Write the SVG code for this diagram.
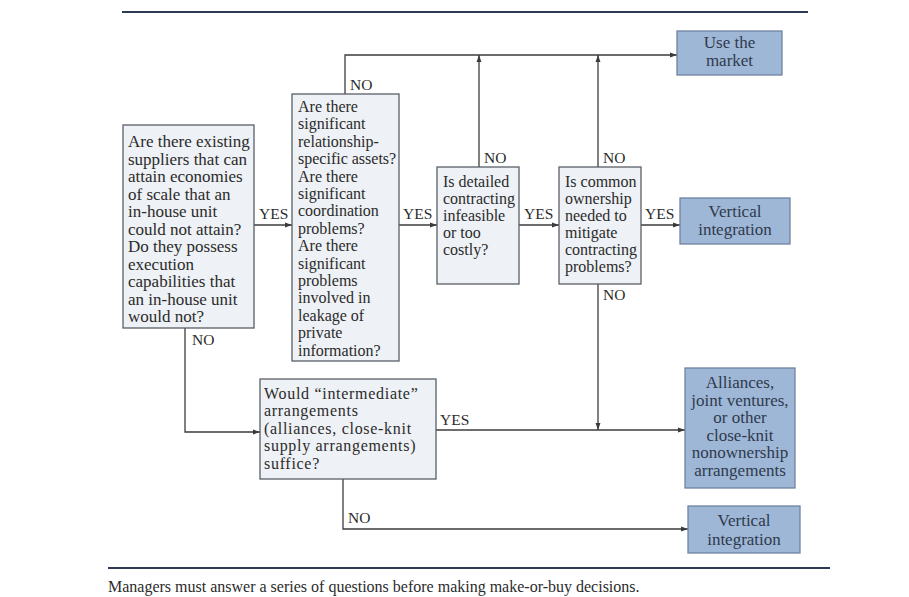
<svg xmlns="http://www.w3.org/2000/svg" width="909" height="597" viewBox="0 0 909 597">
<defs>
<marker id="ah" viewBox="0 0 10 10" refX="10" refY="5" markerWidth="7" markerHeight="7" orient="auto" markerUnits="userSpaceOnUse">
<path d="M0,1.5 L10,5 L0,8.5 z" fill="#3a3a3a"/>
</marker>
<style>
.q{fill:#eef1f5;stroke:#5a5f66;stroke-width:1.3}
.r{fill:#9fb7d7;stroke:#6f83a0;stroke-width:1.3}
.t{font-family:"Liberation Serif","Times New Roman",serif;font-size:16px;fill:#2b2b2b}
.t1{font-size:17px}
.t5{font-size:16px;letter-spacing:0.7px}
.rt{font-family:"Liberation Serif","Times New Roman",serif;font-size:17px;fill:#2e3a4c;text-anchor:middle}
.lb{font-family:"Liberation Serif","Times New Roman",serif;font-size:15.5px;fill:#2b2b2b}
.c{fill:none;stroke:#3d3d3d;stroke-width:1.3}
.rule{stroke:#2c3a55;stroke-width:2;fill:none}
</style>
</defs>
<rect width="909" height="597" fill="#ffffff"/>
<line class="rule" x1="122" y1="12" x2="808" y2="12"/>
<line class="rule" x1="108" y1="568" x2="830" y2="568"/>
<text x="108" y="592" font-family="Liberation Serif, serif" font-size="16" fill="#2b2b2b">Managers must answer a series of questions before making make-or-buy decisions.</text>

<g id="connectors">
<path class="c" d="M254,225 H292" marker-end="url(#ah)"/>
<path class="c" d="M345,94 V55 H677" marker-end="url(#ah)"/>
<path class="c" d="M479,167 V55" marker-end="url(#ah)"/>
<path class="c" d="M598,167 V55" marker-end="url(#ah)"/>
<path class="c" d="M399,225 H437" marker-end="url(#ah)"/>
<path class="c" d="M519,225 H559" marker-end="url(#ah)"/>
<path class="c" d="M641,225 H680" marker-end="url(#ah)"/>
<path class="c" d="M598,284 V430" marker-end="url(#ah)"/>
<path class="c" d="M185,328 V432 H260" marker-end="url(#ah)"/>
<path class="c" d="M436,430 H685" marker-end="url(#ah)"/>
<path class="c" d="M343,479 V529 H688" marker-end="url(#ah)"/>
<text class="lb" x="259" y="219">YES</text>
<text class="lb" x="350" y="90">NO</text>
<text class="lb" x="484" y="163">NO</text>
<text class="lb" x="603" y="163">NO</text>
<text class="lb" x="403" y="219">YES</text>
<text class="lb" x="524" y="219">YES</text>
<text class="lb" x="645" y="219">YES</text>
<text class="lb" x="603" y="300">NO</text>
<text class="lb" x="192" y="345">NO</text>
<text class="lb" x="440" y="425">YES</text>
<text class="lb" x="348" y="523">NO</text>
</g>

<g id="q1">
<rect class="q" x="123" y="125" width="131" height="203"/>
<text class="t t1" x="128" y="147">Are there existing</text>
<text class="t t1" x="128" y="164.5">suppliers that can</text>
<text class="t t1" x="128" y="182">attain economies</text>
<text class="t t1" x="128" y="199.5">of scale that an</text>
<text class="t t1" x="128" y="217">in-house unit</text>
<text class="t t1" x="128" y="234.5">could not attain?</text>
<text class="t t1" x="128" y="252">Do they possess</text>
<text class="t t1" x="128" y="269.5">execution</text>
<text class="t t1" x="128" y="287">capabilities that</text>
<text class="t t1" x="128" y="304.5">an in-house unit</text>
<text class="t t1" x="128" y="322">would not?</text>
</g>

<g id="q2">
<rect class="q" x="292" y="94" width="107" height="267" fill="#eaf0f6"/>
<text class="t" x="298" y="112">Are there</text>
<text class="t" x="298" y="129.4">significant</text>
<text class="t" x="298" y="146.8">relationship-</text>
<text class="t" x="298" y="164.2">specific assets?</text>
<text class="t" x="298" y="181.6">Are there</text>
<text class="t" x="298" y="199">significant</text>
<text class="t" x="298" y="216.4">coordination</text>
<text class="t" x="298" y="233.8">problems?</text>
<text class="t" x="298" y="251.2">Are there</text>
<text class="t" x="298" y="268.6">significant</text>
<text class="t" x="298" y="286">problems</text>
<text class="t" x="298" y="303.4">involved in</text>
<text class="t" x="298" y="320.8">leakage of</text>
<text class="t" x="298" y="338.2">private</text>
<text class="t" x="298" y="355.6">information?</text>
</g>

<g id="q3">
<rect class="q" x="437" y="167" width="82" height="117"/>
<text class="t" x="443" y="187">Is detailed</text>
<text class="t" x="443" y="204">contracting</text>
<text class="t" x="443" y="221">infeasible</text>
<text class="t" x="443" y="238">or too</text>
<text class="t" x="443" y="255">costly?</text>
</g>

<g id="q4">
<rect class="q" x="559" y="167" width="82" height="117"/>
<text class="t" x="565" y="187">Is common</text>
<text class="t" x="565" y="204">ownership</text>
<text class="t" x="565" y="221">needed to</text>
<text class="t" x="565" y="238">mitigate</text>
<text class="t" x="565" y="255">contracting</text>
<text class="t" x="565" y="272">problems?</text>
</g>

<g id="q5">
<rect class="q" x="260" y="379" width="176" height="100"/>
<text class="t t5" x="264" y="398.5">Would “intermediate”</text>
<text class="t t5" x="264" y="416">arrangements</text>
<text class="t t5" x="264" y="433.5">(alliances, close-knit</text>
<text class="t t5" x="264" y="451">supply arrangements)</text>
<text class="t t5" x="264" y="468.5">suffice?</text>
</g>

<g id="market">
<rect class="r" x="677" y="31" width="105" height="44"/>
<text class="rt" x="729.5" y="48" font-size="15">Use the</text>
<text class="rt" x="729.5" y="66" font-size="15">market</text>
</g>

<g id="vi1">
<rect class="r" x="680" y="198" width="110" height="46"/>
<text class="rt" x="735" y="217">Vertical</text>
<text class="rt" x="735" y="235">integration</text>
</g>

<g id="alliances">
<rect class="r" x="685" y="368" width="110" height="120"/>
<text class="rt" x="740" y="388">Alliances,</text>
<text class="rt" x="740" y="405.5">joint ventures,</text>
<text class="rt" x="740" y="423">or other</text>
<text class="rt" x="740" y="440.5">close-knit</text>
<text class="rt" x="740" y="458">nonownership</text>
<text class="rt" x="740" y="475.5">arrangements</text>
</g>

<g id="vi2">
<rect class="r" x="688" y="506" width="112" height="47"/>
<text class="rt" x="744" y="526">Vertical</text>
<text class="rt" x="744" y="545">integration</text>
</g>
</svg>
